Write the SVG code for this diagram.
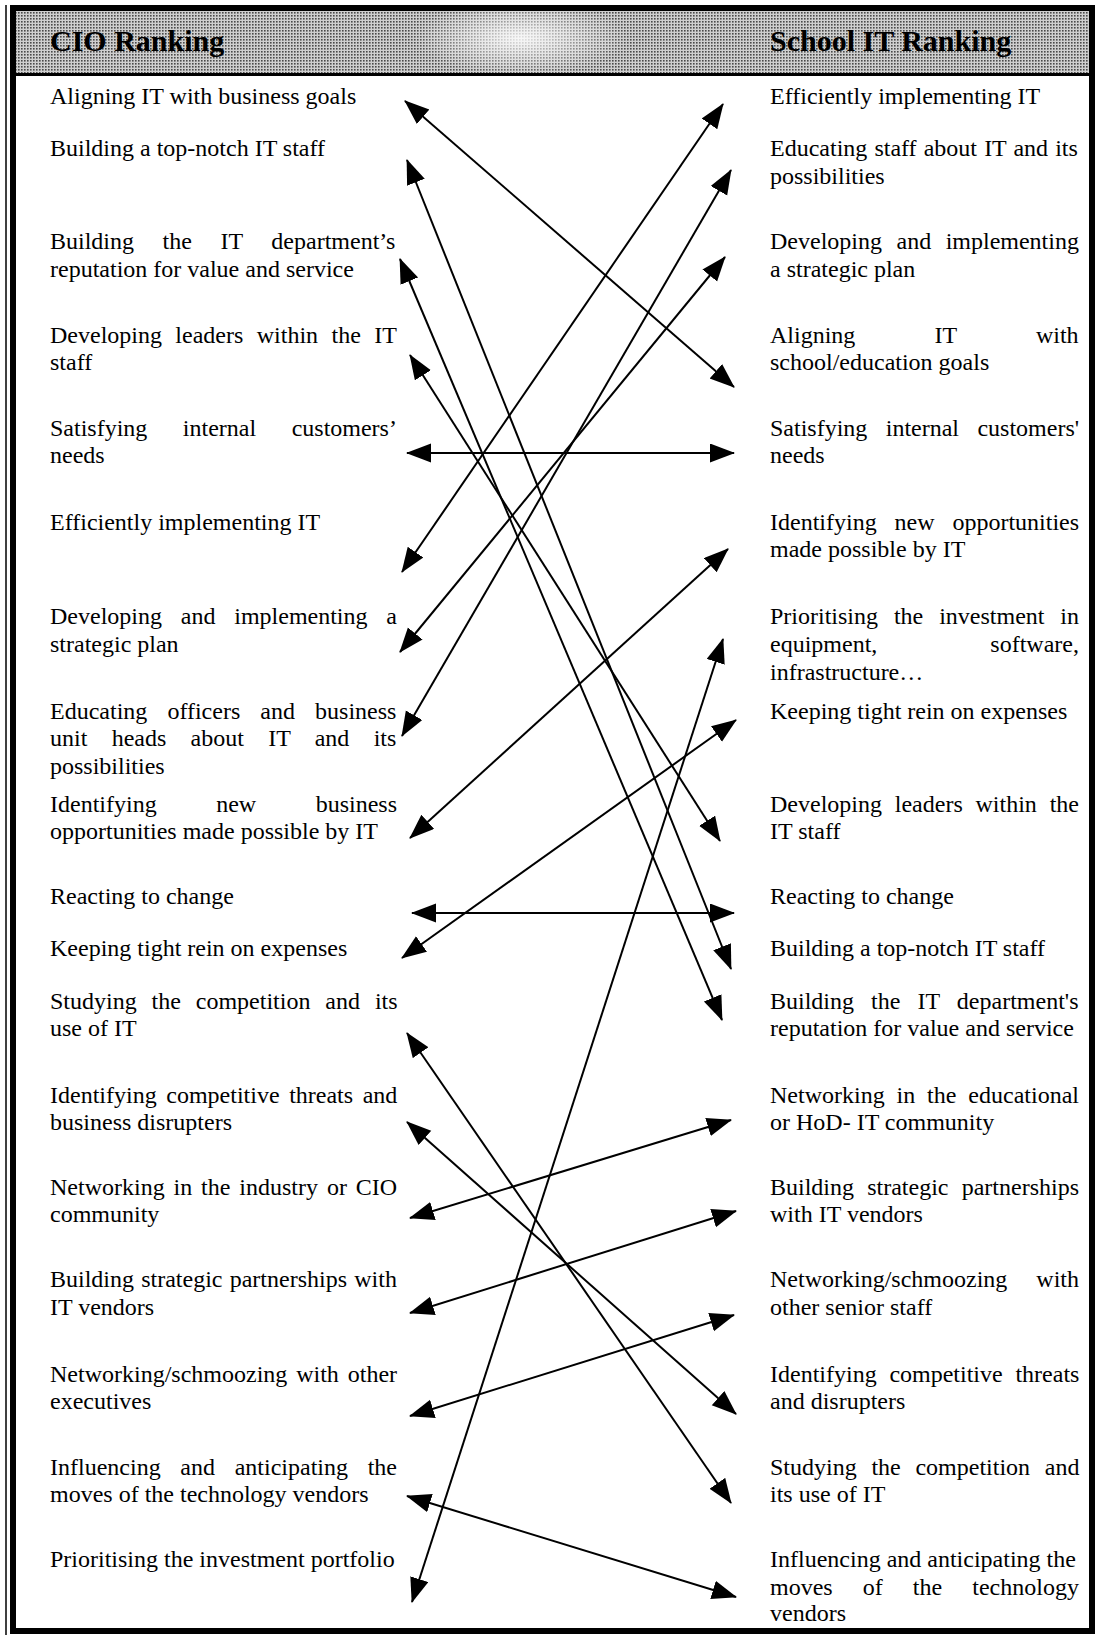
<svg xmlns="http://www.w3.org/2000/svg" width="1096" height="1637" viewBox="0 0 1096 1637">
<style>
.t{font-family:"Liberation Serif","Times New Roman",serif;font-size:24px;fill:#000}
.h{font-family:"Liberation Serif","Times New Roman",serif;font-size:30px;font-weight:bold;fill:#000}
.c{stroke:#000;stroke-width:2;fill:none;marker-start:url(#ah);marker-end:url(#ah)}
</style>
<defs>
<marker id="ah" markerUnits="userSpaceOnUse" markerWidth="27" markerHeight="21" refX="24" refY="9.5" orient="auto-start-reverse"><path d="M0,0 L25,9.5 L0,19 z" fill="#000"/></marker>
<pattern id="dots" width="3" height="3" patternUnits="userSpaceOnUse"><rect width="3" height="3" fill="#cfcfcf"/><rect x="0" y="0" width="1.6" height="1.6" fill="#4a4a4a"/></pattern>
<radialGradient id="spot" cx="0.47" cy="0.45" r="0.1" gradientTransform="translate(0.47 0.45) scale(1 6) translate(-0.47 -0.45)"><stop offset="0" stop-color="#fff" stop-opacity="0.85"/><stop offset="1" stop-color="#fff" stop-opacity="0"/></radialGradient>
</defs>
<rect width="1096" height="1637" fill="#fff"/>
<g id="frame">
<rect x="16" y="10" width="1073" height="63" fill="url(#dots)"/>
<rect x="16" y="10" width="1073" height="63" fill="url(#spot)"/>
<line x1="16" y1="74.5" x2="1089" y2="74.5" stroke="#000" stroke-width="3"/>
<rect x="13" y="8" width="1079" height="1623" fill="none" stroke="#000" stroke-width="6"/>
<line x1="6" y1="5" x2="6" y2="1635" stroke="#000" stroke-width="1.5"/>
</g>
<g id="header-left"><text class="h" x="50" y="51">CIO Ranking</text></g>
<g id="header-right"><text class="h" x="770" y="51">School IT Ranking</text></g>

<g id="connectors">
<line class="c" x1="405" y1="101" x2="734" y2="387"/>
<line class="c" x1="407" y1="160" x2="731" y2="969"/>
<line class="c" x1="400" y1="259" x2="722" y2="1020"/>
<line class="c" x1="410" y1="355" x2="720" y2="841"/>
<line class="c" x1="407" y1="453" x2="734" y2="453"/>
<line class="c" x1="402" y1="572" x2="723" y2="104"/>
<line class="c" x1="400" y1="652" x2="725" y2="257"/>
<line class="c" x1="402" y1="736" x2="731" y2="170"/>
<line class="c" x1="410" y1="838" x2="728" y2="549"/>
<line class="c" x1="412" y1="913" x2="734" y2="913"/>
<line class="c" x1="402" y1="958" x2="736" y2="720"/>
<line class="c" x1="407" y1="1033" x2="731" y2="1503"/>
<line class="c" x1="407" y1="1122" x2="736" y2="1414"/>
<line class="c" x1="410" y1="1218" x2="731" y2="1120"/>
<line class="c" x1="410" y1="1313" x2="736" y2="1211"/>
<line class="c" x1="410" y1="1416" x2="734" y2="1315"/>
<line class="c" x1="407" y1="1496" x2="736" y2="1597"/>
<line class="c" x1="412" y1="1602" x2="723" y2="639"/>
</g>

<g id="L1"><text class="t" x="50" y="104">Aligning IT with business goals</text></g>
<g id="L2"><text class="t" x="50" y="156">Building a top-notch IT staff</text></g>
<g id="L3"><text class="t" x="50" y="249" word-spacing="22.6">Building the IT department’s</text><text class="t" x="50" y="276.5">reputation for value and service</text></g>
<g id="L4"><text class="t" x="50" y="343" word-spacing="7.4">Developing leaders within the IT</text><text class="t" x="50" y="370">staff</text></g>
<g id="L5"><text class="t" x="50" y="436" word-spacing="29.5">Satisfying internal customers’</text><text class="t" x="50" y="463">needs</text></g>
<g id="L6"><text class="t" x="50" y="530">Efficiently implementing IT</text></g>
<g id="L7"><text class="t" x="50" y="624" word-spacing="12.8">Developing and implementing a</text><text class="t" x="50" y="652">strategic plan</text></g>
<g id="L8"><text class="t" x="50" y="718.5" word-spacing="14.1">Educating officers and business</text><text class="t" x="50" y="745.5" word-spacing="18.3">unit heads about IT and its</text><text class="t" x="50" y="773.5">possibilities</text></g>
<g id="L9"><text class="t" x="50" y="812" word-spacing="53.5">Identifying new business</text><text class="t" x="50" y="839">opportunities made possible by IT</text></g>
<g id="L10"><text class="t" x="50" y="904">Reacting to change</text></g>
<g id="L11"><text class="t" x="50" y="956">Keeping tight rein on expenses</text></g>
<g id="L12"><text class="t" x="50" y="1009" word-spacing="8.9">Studying the competition and its</text><text class="t" x="50" y="1036">use of IT</text></g>
<g id="L13"><text class="t" x="50" y="1102.5" word-spacing="3.6">Identifying competitive threats and</text><text class="t" x="50" y="1129.5">business disrupters</text></g>
<g id="L14"><text class="t" x="50" y="1195" word-spacing="2.9">Networking in the industry or CIO</text><text class="t" x="50" y="1222">community</text></g>
<g id="L15"><text class="t" x="50" y="1287" word-spacing="1.2">Building strategic partnerships with</text><text class="t" x="50" y="1315">IT vendors</text></g>
<g id="L16"><text class="t" x="50" y="1382" word-spacing="2.9">Networking/schmoozing with other</text><text class="t" x="50" y="1409">executives</text></g>
<g id="L17"><text class="t" x="50" y="1474.5" word-spacing="13.7">Influencing and anticipating the</text><text class="t" x="50" y="1501.5">moves of the technology vendors</text></g>
<g id="L18"><text class="t" x="50" y="1567">Prioritising the investment portfolio</text></g>

<g id="R1"><text class="t" x="770" y="104">Efficiently implementing IT</text></g>
<g id="R2"><text class="t" x="770" y="156" word-spacing="1.1">Educating staff about IT and its</text><text class="t" x="770" y="183.5">possibilities</text></g>
<g id="R3"><text class="t" x="770" y="249" word-spacing="8.5">Developing and implementing</text><text class="t" x="770" y="276.5">a strategic plan</text></g>
<g id="R4"><text class="t" x="770" y="343" word-spacing="73.2">Aligning IT with</text><text class="t" x="770" y="370">school/education goals</text></g>
<g id="R5"><text class="t" x="770" y="436" word-spacing="12.4">Satisfying internal customers'</text><text class="t" x="770" y="463">needs</text></g>
<g id="R6"><text class="t" x="770" y="530" word-spacing="11.9">Identifying new opportunities</text><text class="t" x="770" y="557">made possible by IT</text></g>
<g id="R7"><text class="t" x="770" y="624" word-spacing="9.9">Prioritising the investment in</text><text class="t" x="770" y="652" word-spacing="107">equipment, software,</text><text class="t" x="770" y="680">infrastructure…</text></g>
<g id="R8"><text class="t" x="770" y="718.5">Keeping tight rein on expenses</text></g>
<g id="R9"><text class="t" x="770" y="812" word-spacing="6.8">Developing leaders within the</text><text class="t" x="770" y="839">IT staff</text></g>
<g id="R10"><text class="t" x="770" y="904">Reacting to change</text></g>
<g id="R11"><text class="t" x="770" y="956">Building a top-notch IT staff</text></g>
<g id="R12"><text class="t" x="770" y="1009" word-spacing="11.1">Building the IT department's</text><text class="t" x="770" y="1036">reputation for value and service</text></g>
<g id="R13"><text class="t" x="770" y="1102.5" word-spacing="5.9">Networking in the educational</text><text class="t" x="770" y="1129.5">or HoD- IT community</text></g>
<g id="R14"><text class="t" x="770" y="1195" word-spacing="7.2">Building strategic partnerships</text><text class="t" x="770" y="1222">with IT vendors</text></g>
<g id="R15"><text class="t" x="770" y="1287" word-spacing="23">Networking/schmoozing with</text><text class="t" x="770" y="1315">other senior staff</text></g>
<g id="R16"><text class="t" x="770" y="1382" word-spacing="6.75">Identifying competitive threats</text><text class="t" x="770" y="1409">and disrupters</text></g>
<g id="R17"><text class="t" x="770" y="1474.5" word-spacing="8.7">Studying the competition and</text><text class="t" x="770" y="1501.5">its use of IT</text></g>
<g id="R18"><text class="t" x="770" y="1567">Influencing and anticipating the</text><text class="t" x="770" y="1595" word-spacing="24.1">moves of the technology</text><text class="t" x="770" y="1621">vendors</text></g>
</svg>
